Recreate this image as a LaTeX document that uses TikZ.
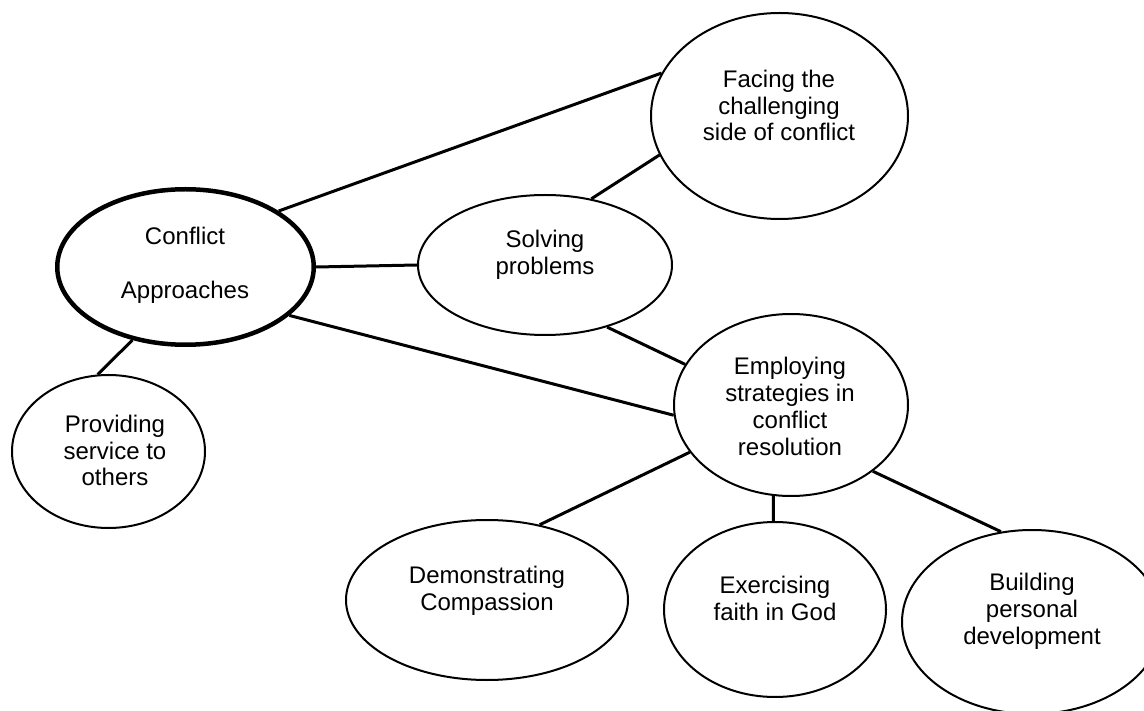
\documentclass[tikz,border=0pt]{standalone}
\usepackage{fontspec}
\setmainfont{Liberation Sans}
\usetikzlibrary{shapes.geometric}
\begin{document}
\begin{tikzpicture}[x=1pt,y=-1pt,
  bubble/.style={ellipse, draw=black, line width=2pt, inner sep=0pt},
  mainbubble/.style={bubble, line width=4.5pt},
  lbl/.style={align=center, font=\fontsize{24}{26.8}\selectfont, inner sep=0pt},
  link/.style={draw=black, line width=3pt}]
\clip (0,0) rectangle (1144,711);
% ellipses
\node[mainbubble, minimum width=256.5pt, minimum height=155.5pt] (con) at (185.5,267) {};
\node[bubble, minimum width=257pt, minimum height=206pt] (fac) at (779.5,116) {};
\node[bubble, minimum width=254pt, minimum height=140pt] (sol) at (545,265) {};
\node[bubble, minimum width=234pt, minimum height=182pt] (emp) at (791,405) {};
\node[bubble, minimum width=193pt, minimum height=153pt] (pro) at (108.5,451.5) {};
\node[bubble, minimum width=282pt, minimum height=160pt] (com) at (487,600) {};
\node[bubble, minimum width=222pt, minimum height=175pt] (fai) at (775,609.5) {};
\node[bubble, minimum width=260pt, minimum height=184pt] (bui) at (1032,622) {};
% labels
\node[lbl] (conT) at (185,265) {Conflict\\[26.8pt]Approaches};
\node[lbl] (facT) at (779,105.5) {Facing the\\challenging\\side of conflict};
\node[lbl] (solT) at (545,255) {Solving\\problems};
\node[lbl] (empT) at (790,406.5) {Employing\\strategies in\\conflict\\resolution};
\node[lbl] (proT) at (115,450.5) {Providing\\service to\\others};
\node[lbl] (comT) at (487,590.5) {Demonstrating\\Compassion};
\node[lbl] (faiT) at (775,598.5) {Exercising\\faith in God};
\node[lbl] (buiT) at (1032,611.5) {Building\\personal\\development};
% connectors
\draw[link] (con.31) -- (fac.160);
\draw[link] (con.east) -- (sol.west);
\draw[link] (con.335) -- (emp.185);
\draw[link] (con.234) -- (pro.98);
\draw[link] (sol.55) -- (fac.198);
\draw[link] (sol.315) -- (emp.159);
\draw[link] (emp.205) -- (com.55);
\draw[link] (emp.259) -- (fai.91);
\draw[link] (emp.321) -- (bui.109);
\end{tikzpicture}
\end{document}
